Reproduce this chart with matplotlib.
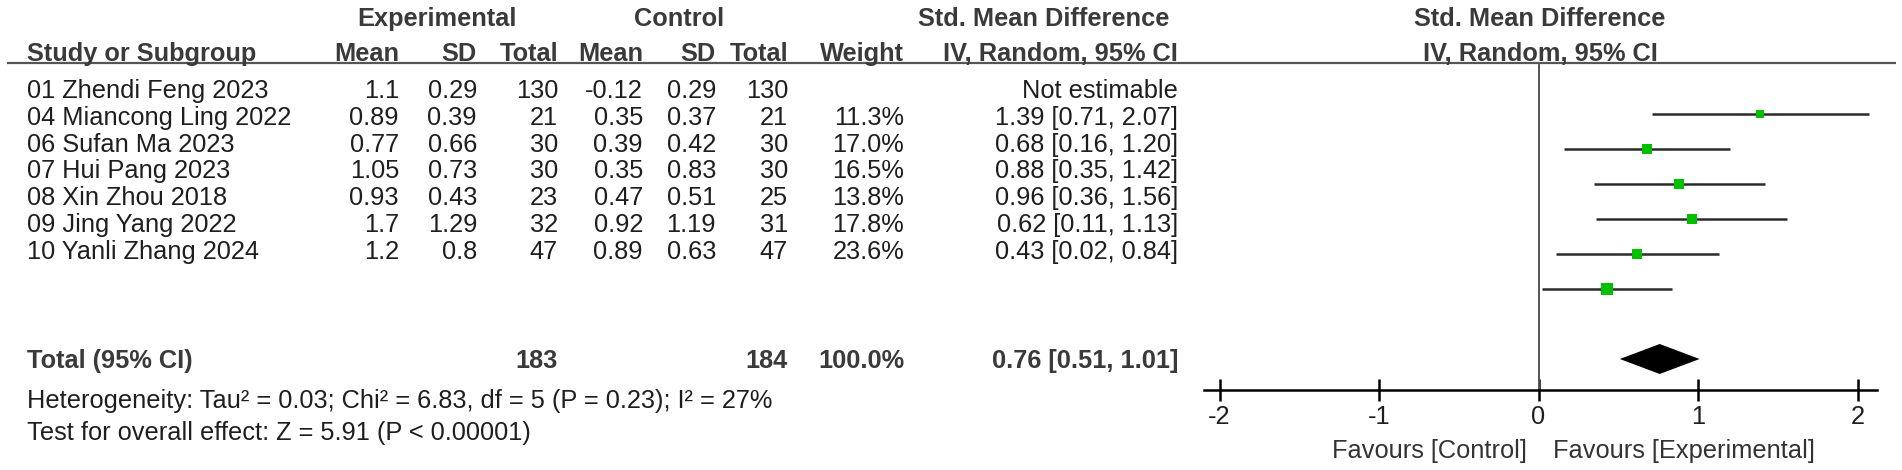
import matplotlib.pyplot as plt
from matplotlib.transforms import blended_transform_factory

plt.rcParams['font.family'] = ['Liberation Sans', 'DejaVu Sans']

# study data
studies = ["01 Zhendi Feng 2023", "04 Miancong Ling 2022", "06 Sufan Ma 2023",
           "07 Hui Pang 2023", "08 Xin Zhou 2018", "09 Jing Yang 2022",
           "10 Yanli Zhang 2024"]
exp_mean = [1.1, 0.89, 0.77, 1.05, 0.93, 1.7, 1.2]
exp_sd = [0.29, 0.39, 0.66, 0.73, 0.43, 1.29, 0.8]
exp_n = [130, 21, 30, 30, 23, 32, 47]
ctl_mean = [-0.12, 0.35, 0.39, 0.35, 0.47, 0.92, 0.89]
ctl_sd = [0.29, 0.37, 0.42, 0.83, 0.51, 1.19, 0.63]
ctl_n = [130, 21, 30, 30, 25, 31, 47]
weight = [None, 11.3, 17.0, 16.5, 13.8, 17.8, 23.6]
smd = [None, 1.39, 0.68, 0.88, 0.96, 0.62, 0.43]
ci_lo = [None, 0.71, 0.16, 0.35, 0.36, 0.11, 0.02]
ci_hi = [None, 2.07, 1.20, 1.42, 1.56, 1.13, 0.84]

# pooled
tot_exp = 183
tot_ctl = 184
pooled = 0.76
pooled_lo = 0.51
pooled_hi = 1.01
het_text = "Heterogeneity: Tau² = 0.03; Chi² = 6.83, df = 5 (P = 0.23); I² = 27%"
effect_text = "Test for overall effect: Z = 5.91 (P < 0.00001)"
ticks = [-2, -1, 0, 1, 2]

W, H = 1902, 470
FS = 18.3
TXT = '#1e1e1e'
HDR = '#3a3a3a'

fig = plt.figure(figsize=(W / 100, H / 100), dpi=100)

# table text in pixel coordinates
tab = fig.add_axes([0, 0, 1, 1])
tab.set_xlim(0, W)
tab.set_ylim(H, 0)
tab.axis('off')

def t(x, y, s, ha='right', bold=False, color=TXT):
    tab.text(x, y, s, ha=ha, va='baseline', fontsize=FS,
             fontweight='bold' if bold else 'normal', color=color)

# column right edges
cols = [399, 477, 558, 643, 716, 788, 904, 1178]
x_left = 27

# headers
t(437, 26, "Experimental", ha='center', bold=True, color=HDR)
t(679, 26, "Control", ha='center', bold=True, color=HDR)
t(1044, 26, "Std. Mean Difference", ha='center', bold=True, color=HDR)
t(1540, 26, "Std. Mean Difference", ha='center', bold=True, color=HDR)
t(x_left, 61, "Study or Subgroup", ha='left', bold=True, color=HDR)
for x, s in zip(cols, ["Mean", "SD", "Total", "Mean", "SD", "Total", "Weight",
                       "IV, Random, 95% CI"]):
    t(x, 61, s, bold=True, color=HDR)
t(1540, 61, "IV, Random, 95% CI", ha='center', bold=True, color=HDR)
tab.plot([7, 1896], [63, 63], color='#555555', lw=1.6, solid_capstyle='butt')

# study rows
row_base = 98
row_step = 26.8
for i, name in enumerate(studies):
    y = row_base + i * row_step
    t(x_left, y, name, ha='left')
    vals = [str(exp_mean[i]), str(exp_sd[i]), str(exp_n[i]),
            str(ctl_mean[i]), str(ctl_sd[i]), str(ctl_n[i])]
    for x, s in zip(cols[:6], vals):
        t(x, y, s)
    if weight[i] is None:
        t(cols[7], y, "Not estimable")
    else:
        t(cols[6], y, f"{weight[i]:.1f}%")
        t(cols[7], y, f"{smd[i]:.2f} [{ci_lo[i]:.2f}, {ci_hi[i]:.2f}]")

# total row
t(x_left, 368, "Total (95% CI)", ha='left', bold=True, color=HDR)
t(cols[2], 368, str(tot_exp), bold=True, color=HDR)
t(cols[5], 368, str(tot_ctl), bold=True, color=HDR)
t(cols[6], 368, "100.0%", bold=True, color=HDR)
t(cols[7], 368, f"{pooled:.2f} [{pooled_lo:.2f}, {pooled_hi:.2f}]", bold=True, color=HDR)
t(x_left, 408, het_text, ha='left')
t(x_left, 440, effect_text, ha='left')

# forest plot: x in SMD units, y in pixels
zero_px, unit_px = 1538.5, 159.5
ax = fig.add_axes([0, 0, 1, 1])
ax.set_facecolor('none')
ax.set_xlim(-zero_px / unit_px, (W - zero_px) / unit_px)
ax.set_ylim(H, 0)

axis_y = 390
ax.vlines(0, 63, axis_y, color='#555555', lw=1.4)

f_base, f_step = 79, 35
for i in range(len(studies)):
    if smd[i] is None:
        continue
    y = f_base + i * f_step
    ax.hlines(y, ci_lo[i], ci_hi[i], color='#2b2b2b', lw=1.8)
    side = 2.6 * weight[i] ** 0.5 / 1.389
    ax.scatter([smd[i]], [y], marker='s', s=side ** 2, color='#00c000',
               linewidths=0, zorder=3)

dy = 359
hh = 15
ax.fill([pooled_lo, pooled, pooled_hi, pooled], [dy, dy - hh, dy, dy + hh],
        color='black', lw=0)

for s in ['top', 'left', 'right']:
    ax.spines[s].set_visible(False)
ax.spines['bottom'].set_position(('data', axis_y))
ax.spines['bottom'].set_bounds(-2.1, 2.12)
ax.spines['bottom'].set_linewidth(1.8)
ax.set_yticks([])
ax.set_xticks(ticks)
ax.set_xticklabels([str(v) for v in ticks])
ax.tick_params(axis='x', direction='inout', length=16, width=1.8,
               labelsize=FS, pad=3, labelcolor=TXT)

tr = blended_transform_factory(ax.transData, tab.transData)
ax.text(-0.075, 458, "Favours [Control]", transform=tr, ha='right', va='baseline',
        fontsize=FS, color='#333333')
ax.text(0.09, 458, "Favours [Experimental]", transform=tr, ha='left', va='baseline',
        fontsize=FS, color='#333333')

fig.savefig('out.png', dpi=100)
